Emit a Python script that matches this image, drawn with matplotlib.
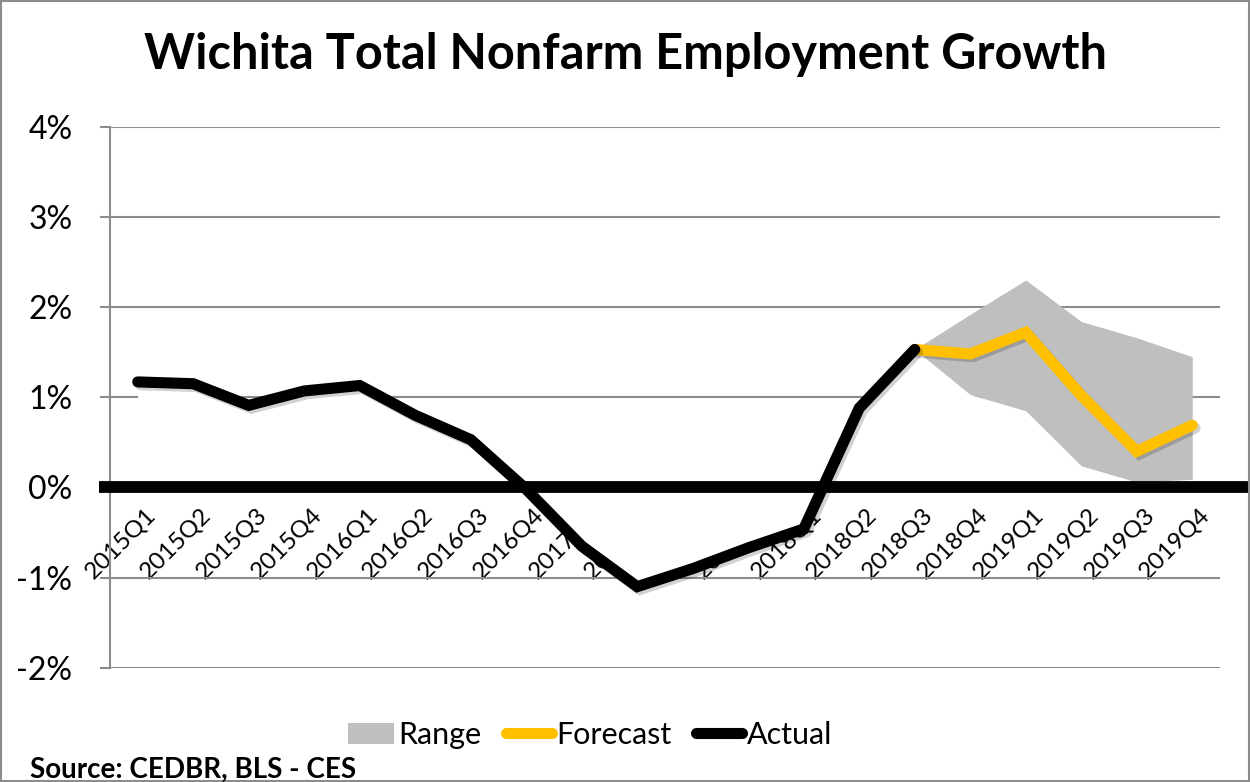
import numpy as np
import matplotlib
matplotlib.use('Agg')
import matplotlib.pyplot as plt
import matplotlib.patheffects as pe
import matplotlib.transforms as mtransforms
from matplotlib.lines import Line2D
from matplotlib.patches import Patch, Rectangle

plt.rcParams['font.family'] = ['Lato', 'DejaVu Sans']

quarters = ['2015Q1', '2015Q2', '2015Q3', '2015Q4',
            '2016Q1', '2016Q2', '2016Q3', '2016Q4',
            '2017Q1', '2017Q2', '2017Q3', '2017Q4',
            '2018Q1', '2018Q2', '2018Q3', '2018Q4',
            '2019Q1', '2019Q2', '2019Q3', '2019Q4']

# actual growth, 2015Q1 - 2018Q3 (%)
actual = [1.17, 1.15, 0.91, 1.07, 1.13, 0.80, 0.53, -0.02,
          -0.65, -1.10, -0.90, -0.67, -0.46, 0.88, 1.53]
# forecast, 2018Q3 - 2019Q4 (%)
forecast = [1.53, 1.48, 1.72, 1.02, 0.40, 0.69]
range_low = [1.53, 1.03, 0.85, 0.24, 0.06, 0.09]
range_high = [1.53, 1.92, 2.30, 1.84, 1.66, 1.45]

GREY = '#BFBFBF'
GOLD = '#FFC000'
GRID = '#8C8C8C'

x = np.arange(len(quarters))
x_act = x[:len(actual)]
x_fc = x[len(actual) - 1:]

fig = plt.figure(figsize=(12.5, 7.82), dpi=100)
ax = fig.add_axes([0.088, 0.146, 0.888, 0.692])

ax.set_xlim(-0.5, len(quarters) - 0.5)
ax.set_ylim(-2, 4)
ax.set_yticks(range(-2, 5))
ax.set_yticklabels([f'{v}%' for v in range(-2, 5)], fontsize=23)
ax.grid(axis='y', color=GRID, linewidth=1.5, zorder=0)
ax.set_axisbelow(True)

# stacked area: white base (hides gridlines like Excel), grey range on top
base = np.concatenate([actual, range_low[1:]])
ax.fill_between(x, 0, base, color='white', linewidth=0, zorder=1)
ax.fill_between(x_fc, range_low, range_high, color=GREY, linewidth=0, zorder=1)

shadow = [pe.SimpleLineShadow(offset=(2, -2), alpha=0.18, shadow_color='black'), pe.Normal()]
ax.plot(x_fc, forecast, color=GOLD, linewidth=8, solid_capstyle='round',
        solid_joinstyle='miter', zorder=4, path_effects=shadow)
ax.plot(x_act, actual, color='black', linewidth=8, solid_capstyle='round',
        solid_joinstyle='miter', zorder=5, path_effects=shadow)

# thick zero axis running to the right edge
ax.plot([-0.01, 1.03], [0, 0], color='black', linewidth=8.5, solid_capstyle='butt',
        transform=ax.get_yaxis_transform(), clip_on=False, zorder=3)

for s in ['top', 'right']:
    ax.spines[s].set_visible(False)
ax.spines['left'].set_color(GRID)
ax.spines['left'].set_linewidth(1.5)
ax.spines['bottom'].set_position(('data', 0))
ax.spines['bottom'].set_visible(False)

ax.tick_params(axis='y', length=7, width=1.5, color=GRID, pad=20)
ax.set_xticks(x)
ax.set_xticklabels(quarters, rotation=45, ha='right', rotation_mode='anchor', fontsize=17.5)
ax.tick_params(axis='x', length=0, pad=12)
shift = mtransforms.ScaledTranslation(7 / 100, 0, fig.dpi_scale_trans)
for lab in ax.get_xticklabels():
    lab.set_transform(lab.get_transform() + shift)

fig.text(0.5, 0.93, 'Wichita Total Nonfarm Employment Growth', ha='center', va='center',
         fontsize=35, fontweight='bold')
fig.text(0.024, 0.016, 'Source: CEDBR, BLS - CES', ha='left', va='center',
         fontsize=20, fontweight='bold')

handles = [Patch(facecolor=GREY, edgecolor='none'),
           Line2D([0], [0], color=GOLD, linewidth=8, solid_capstyle='round'),
           Line2D([0], [0], color='black', linewidth=8, solid_capstyle='round')]
fig.legend(handles, ['Range', 'Forecast', 'Actual'], loc='center', bbox_to_anchor=(0.472, 0.06),
           ncol=3, frameon=False, fontsize=22, handlelength=1.5, handletextpad=0.15,
           columnspacing=0.8)

fig.patches.append(Rectangle((0.001, 0.001), 0.998, 0.998, transform=fig.transFigure,
                             fill=False, edgecolor=GRID, linewidth=1.5))

fig.savefig('out.png', dpi=100)
